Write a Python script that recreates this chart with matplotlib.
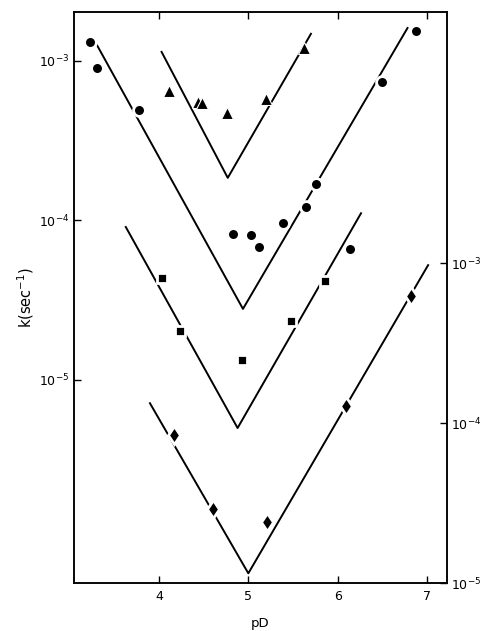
"""
Rate constant k versus pD: four V-shaped profiles on log axes
(lowest profile read against the right-hand axis).
"""

import matplotlib
import numpy as np

matplotlib.use("Agg")
import matplotlib.pyplot as plt

# ---- data ----
# circles (left axis)
circle_pd = [3.23, 3.31, 3.78, 4.83, 5.03, 5.12, 5.39, 5.65, 5.76, 6.50, 6.88, 6.14]
circle_k = [1.31e-3, 9.0e-4, 4.9e-4, 8.2e-5, 8.1e-5, 6.8e-5, 9.6e-5, 1.22e-4, 1.69e-4, 7.4e-4, 1.54e-3, 6.6e-5]

# triangles (left axis)
tri_pd = [4.11, 4.44, 4.48, 4.76, 5.20, 5.62]
tri_k = [6.5e-4, 5.5e-4, 5.45e-4, 4.72e-4, 5.78e-4, 1.21e-3]

# squares (left axis)
sq_pd = [4.03, 4.24, 4.93, 5.48, 5.86]
sq_k = [4.35e-5, 2.03e-5, 1.33e-5, 2.34e-5, 4.18e-5]

# diamonds (right axis)
dia_pd = [4.17, 4.61, 5.21, 6.09, 6.82]
dia_k = [8.4e-5, 2.9e-5, 2.4e-5, 1.28e-4, 6.2e-4]

# fitted V lines: left end, minimum, right end
tri_line_pd = [4.03, 4.77, 5.70]
tri_line_k = [1.14e-3, 1.85e-4, 1.48e-3]
circle_line_pd = [3.30, 4.94, 6.78]
circle_line_k = [1.28e-3, 2.79e-5, 1.61e-3]
sq_line_pd = [3.63, 4.88, 6.26]
sq_line_k = [9.1e-5, 5.0e-6, 1.11e-4]
dia_line_pd = [3.90, 5.00, 7.01]
dia_line_k = [1.33e-4, 1.15e-5, 9.7e-4]

x_ticks = [4, 5, 6, 7]
left_ticks = [1e-3, 1e-4, 1e-5]
left_tick_labels = [r"$10^{-3}$", r"$10^{-4}$", r"$10^{-5}$"]
right_ticks = [1e-3, 1e-4, 1e-5]
right_tick_labels = [r"$10^{-3}$", r"$10^{-4}$", r"$10^{-5}$"]

plt.rcParams["font.family"] = ["DejaVu Sans"]
plt.rcParams["mathtext.fontset"] = "dejavusans"

fig = plt.figure(figsize=(4.8, 6.31), dpi=100)
ax = fig.add_axes([0.154, 0.076, 0.777, 0.905])
ax2 = ax.twinx()

line_kw = dict(color="black", linewidth=1.4, zorder=2)
mark_kw = dict(linestyle="none", color="black", markeredgecolor="white",
               markeredgewidth=2.0, zorder=3)

ax.plot(tri_line_pd, tri_line_k, **line_kw)
ax.plot(circle_line_pd, circle_line_k, **line_kw)
ax.plot(sq_line_pd, sq_line_k, **line_kw)
ax.plot(circle_pd, circle_k, marker="o", markersize=8.5, **mark_kw)
# triangles: thinner halo so they don't cut the nearby line
ax.plot(tri_pd, tri_k, marker="^", markersize=8.5, linestyle="none",
        color="black", markeredgecolor="white", markeredgewidth=0.8, zorder=3)
ax.plot(sq_pd, sq_k, marker="s", markersize=7.5, **mark_kw)

ax2.plot(dia_line_pd, dia_line_k, **line_kw)
ax2.plot(dia_pd, dia_k, marker="d", markersize=9.5, **mark_kw)

ax.set_yscale("log")
ax2.set_yscale("log")
ax.set_xlim(3.05, 7.22)
ax.set_ylim(10 ** -6.273, 10 ** -2.693)
ax2.set_ylim(1e-5, 10 ** -1.431)

ax.set_xticks(x_ticks)
ax.set_xticklabels([str(v) for v in x_ticks])
ax.set_yticks(left_ticks)
ax.set_yticklabels(left_tick_labels)
ax.yaxis.set_minor_locator(matplotlib.ticker.NullLocator())
ax2.set_yticks(right_ticks)
ax2.set_yticklabels(right_tick_labels)
ax2.yaxis.set_minor_locator(matplotlib.ticker.NullLocator())

ax.tick_params(axis="both", which="major", direction="in", length=5, width=1,
               labelsize=9, top=True)
ax.tick_params(axis="x", pad=5)
ax2.tick_params(axis="y", which="major", direction="in", length=5, width=1,
                labelsize=9, pad=3)

for a in (ax, ax2):
    for s in a.spines.values():
        s.set_linewidth(1.1)

ax.set_xlabel("pD", fontsize=9.5, labelpad=10)
ax.set_ylabel(r"k(sec$^{-1}$)", fontsize=10.5, labelpad=2)

fig.savefig("out.png", dpi=100)
plt.close(fig)
